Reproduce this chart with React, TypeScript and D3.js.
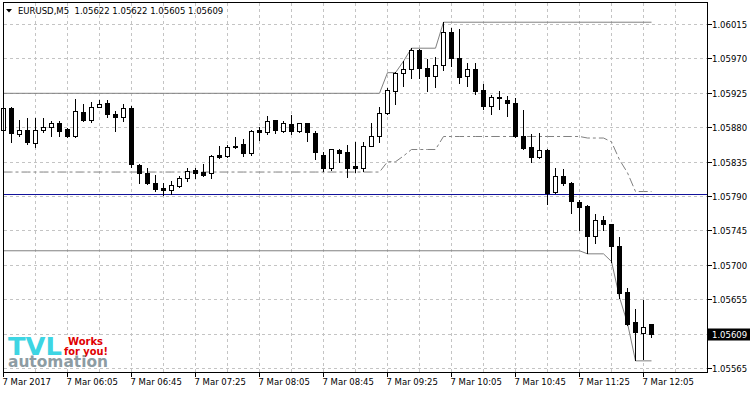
import React from 'react';
import * as d3 from 'd3';

// ---- data (EURUSD M5, 7 Mar 2017, 05:25 .. 12:10) ----
const opens = [
  1.05876, 1.05905, 1.05871, 1.05876, 1.05859, 1.05876, 1.05880, 1.05885, 1.05878, 1.05869,
  1.05900, 1.05890, 1.05907, 1.05912, 1.05897, 1.05893, 1.05905, 1.05831, 1.05820, 1.05807,
  1.05800, 1.05798, 1.05803, 1.05813, 1.05824, 1.05821, 1.05820, 1.05844, 1.05842, 1.05856,
  1.05858, 1.05846, 1.05876, 1.05874, 1.05889, 1.05875, 1.05884, 1.05875, 1.05885, 1.05873,
  1.05844, 1.05826, 1.05850, 1.05847, 1.05829, 1.05827, 1.05856, 1.05868, 1.05899, 1.05928,
  1.05951, 1.05956, 1.05981, 1.05957, 1.05947, 1.05961, 1.06004, 1.05971, 1.05947, 1.05956,
  1.05929, 1.05908, 1.05920, 1.05916, 1.05912, 1.05868, 1.05854, 1.05841, 1.05850, 1.05795,
  1.05816, 1.05807, 1.05782, 1.05777, 1.05738, 1.05758, 1.05753, 1.05725, 1.05664, 1.05625,
  1.05611, 1.05622,
];
const highs = [
  1.05925, 1.05907, 1.05889, 1.05892, 1.05892, 1.05892, 1.05888, 1.05888, 1.05879, 1.05917,
  1.05911, 1.05913, 1.05916, 1.05916, 1.05901, 1.05911, 1.05908, 1.05832, 1.05826, 1.05818,
  1.05807, 1.05809, 1.05816, 1.05826, 1.05826, 1.05832, 1.05843, 1.05855, 1.05857, 1.05867,
  1.05865, 1.05876, 1.05880, 1.05895, 1.05890, 1.05888, 1.05896, 1.05886, 1.05886, 1.05875,
  1.05847, 1.05852, 1.05851, 1.05857, 1.05860, 1.05861, 1.05885, 1.05906, 1.05931, 1.05952,
  1.05967, 1.05984, 1.05982, 1.05969, 1.05972, 1.06017, 1.06010, 1.06009, 1.05964, 1.05964,
  1.05936, 1.05922, 1.05927, 1.05921, 1.05918, 1.05903, 1.05871, 1.05872, 1.05851, 1.05826,
  1.05825, 1.05808, 1.05785, 1.05778, 1.05766, 1.05764, 1.05754, 1.05737, 1.05669, 1.05642,
  1.05654, 1.05622,
];
const lows = [
  1.05872, 1.05861, 1.05868, 1.05858, 1.05854, 1.05874, 1.05868, 1.05868, 1.05867, 1.05867,
  1.05888, 1.05887, 1.05906, 1.05893, 1.05875, 1.05888, 1.05828, 1.05807, 1.05806, 1.05796,
  1.05791, 1.05793, 1.05802, 1.05810, 1.05814, 1.05816, 1.05813, 1.05840, 1.05841, 1.05853,
  1.05842, 1.05844, 1.05863, 1.05871, 1.05872, 1.05874, 1.05871, 1.05874, 1.05862, 1.05839,
  1.05823, 1.05824, 1.05834, 1.05815, 1.05822, 1.05823, 1.05855, 1.05861, 1.05897, 1.05911,
  1.05934, 1.05945, 1.05944, 1.05928, 1.05933, 1.05955, 1.05960, 1.05938, 1.05934, 1.05924,
  1.05904, 1.05897, 1.05904, 1.05894, 1.05867, 1.05852, 1.05834, 1.05840, 1.05780, 1.05794,
  1.05804, 1.05768, 1.05746, 1.05715, 1.05729, 1.05746, 1.05704, 1.05656, 1.05621, 1.05575,
  1.05577, 1.05605,
];
const closes = [
  1.05905, 1.05872, 1.05876, 1.05860, 1.05876, 1.05880, 1.05885, 1.05875, 1.05869, 1.05901,
  1.05889, 1.05906, 1.05911, 1.05897, 1.05893, 1.05905, 1.05832, 1.05820, 1.05807, 1.05799,
  1.05798, 1.05804, 1.05813, 1.05823, 1.05820, 1.05818, 1.05842, 1.05841, 1.05854, 1.05854,
  1.05846, 1.05875, 1.05874, 1.05888, 1.05876, 1.05885, 1.05875, 1.05885, 1.05874, 1.05847,
  1.05827, 1.05851, 1.05846, 1.05826, 1.05827, 1.05855, 1.05868, 1.05898, 1.05929, 1.05951,
  1.05956, 1.05981, 1.05957, 1.05947, 1.05961, 1.06004, 1.05971, 1.05946, 1.05956, 1.05928,
  1.05908, 1.05919, 1.05918, 1.05912, 1.05868, 1.05853, 1.05841, 1.05850, 1.05794, 1.05816,
  1.05807, 1.05783, 1.05776, 1.05738, 1.05759, 1.05753, 1.05724, 1.05663, 1.05623, 1.05612,
  1.05619, 1.05609,
];

// channel indicator breakpoints: [bar index, price]
const upperChannel: [number, number][] = [
  [0, 1.05925], [47, 1.05925], [48, 1.05952], [49, 1.05952], [50, 1.05967],
  [51, 1.05984], [54, 1.05984], [55, 1.06018], [81, 1.06018],
];
const lowerChannel: [number, number][] = [
  [0, 1.05719], [72, 1.05719], [73, 1.05715], [75, 1.05715], [76, 1.05705],
  [77, 1.05658], [78, 1.05624], [79, 1.05575], [81, 1.05575],
];
const blueLevel = 1.05792;
const currentPrice = 1.05609;

const priceTicks = [
  1.06015, 1.0597, 1.05925, 1.0588, 1.05835, 1.0579, 1.05745, 1.057, 1.05655, 1.0561, 1.05565,
];
const timeLabels = [
  '7 Mar 2017', '7 Mar 06:05', '7 Mar 06:45', '7 Mar 07:25', '7 Mar 08:05', '7 Mar 08:45',
  '7 Mar 09:25', '7 Mar 10:05', '7 Mar 10:45', '7 Mar 11:25', '7 Mar 12:05',
];
const titleText = 'EURUSD,M5  1.05622 1.05622 1.05605 1.05609';

const FONT = "'DejaVu Sans', Tahoma, sans-serif";

export default function App() {
  const W = 750, H = 394;
  const left = 3.5, right = 707.5, top = 2.5, bottom = 372.5;
  const x = d3.scaleLinear().domain([0, 88]).range([3.5, 707.5]);
  const y = d3.scaleLinear().domain([1.05565, 1.06015]).range([368, 24]);
  const ry = (v: number) => Math.round(y(v));

  const upperS = d3.scaleLinear().domain(upperChannel.map(d => d[0])).range(upperChannel.map(d => d[1]));
  const lowerS = d3.scaleLinear().domain(lowerChannel.map(d => d[0])).range(lowerChannel.map(d => d[1]));
  const line = d3.line<[number, number]>().x(d => x(d[0])).y(d => y(d[1]) + 0.5);
  const midPts: [number, number][] = d3.range(0, opens.length).map(i => [i, (upperS(i) + lowerS(i)) / 2]);

  const gridV = d3.range(4, 88, 4);
  const labelBars = timeLabels.map((_, k) => k * 8);

  return (
    <svg width={W} height={H} viewBox={`0 0 ${W} ${H}`}
      style={{ position: 'absolute', left: 0, top: 0, background: '#fff' }}>
      <rect x={0} y={0} width={W} height={H} fill="#fff" />
      {/* grid */}
      <g stroke="#c4c4c4" strokeWidth={1} strokeDasharray="3,3" shapeRendering="crispEdges">
        {gridV.map(i => (
          <line key={'v' + i} x1={x(i)} x2={x(i)} y1={top} y2={bottom} />
        ))}
        {priceTicks.map(t => (
          <line key={'h' + t} x1={left} x2={right} y1={ry(t) + 0.5} y2={ry(t) + 0.5} />
        ))}
      </g>
      {/* channel */}
      <path d={line(upperChannel) || ''} fill="none" stroke="#808080" strokeWidth={1} />
      <path d={line(lowerChannel) || ''} fill="none" stroke="#808080" strokeWidth={1} />
      <path d={line(midPts) || ''} fill="none" stroke="#808080" strokeWidth={1} strokeDasharray="9,3,3,3" />
      {/* blue horizontal level */}
      <line x1={left} x2={right} y1={ry(blueLevel) + 0.5} y2={ry(blueLevel) + 0.5}
        stroke="#12129a" strokeWidth={1} shapeRendering="crispEdges" />
      {/* candles */}
      <g shapeRendering="crispEdges">
        {opens.map((o, i) => {
          const c = closes[i];
          const cx = x(i);
          const yo = ry(o), yc = ry(c), yh = ry(highs[i]), yl = ry(lows[i]);
          const bull = c > o;
          return (
            <g key={i}>
              <rect x={cx - 0.5} y={yh} width={1} height={Math.max(1, yl - yh + 1)} fill="#000" />
              {bull ? (
                yo - yc >= 2 ? (
                  <rect x={cx - 2} y={yc + 0.5} width={4} height={yo - yc} fill="#fff" stroke="#000" strokeWidth={1} />
                ) : (
                  <rect x={cx - 2.5} y={yc} width={5} height={Math.max(1, yo - yc + 1)} fill="#000" />
                )
              ) : (
                <rect x={cx - 2.5} y={yo} width={5} height={Math.max(1, yc - yo + 1)} fill="#000" />
              )}
            </g>
          );
        })}
      </g>
      {/* logo */}
      <g>
        <rect x={5} y={335} width={105} height={32} fill="#fff" />
        <text x={8} y={354.5} fontFamily={FONT} fontWeight="bold" fontSize={24} fill="#3dd5e3"
          textLength={54} lengthAdjust="spacingAndGlyphs">TVL</text>
        <text x={68} y={344.5} fontFamily={FONT} fontWeight="bold" fontSize={10} fill="#e00000"
          textLength={35} lengthAdjust="spacingAndGlyphs">Works</text>
        <text x={64} y={354.5} fontFamily={FONT} fontWeight="bold" fontSize={10} fill="#e00000"
          textLength={44} lengthAdjust="spacingAndGlyphs">for you!</text>
        <text x={8} y={366.5} fontFamily={FONT} fontWeight="bold" fontSize={15} fill="#8d9ca3"
          textLength={100} lengthAdjust="spacingAndGlyphs">automation</text>
      </g>
      {/* frame */}
      <rect x={left} y={top} width={right - left} height={bottom - top} fill="none" stroke="#000"
        strokeWidth={1} shapeRendering="crispEdges" />
      {/* right axis */}
      <g fontFamily={FONT} fontSize={8.5} fill="#000">
        {priceTicks.map(t => (
          <g key={'yt' + t}>
            <line x1={right} x2={right + 4} y1={ry(t) + 0.5} y2={ry(t) + 0.5} stroke="#000" shapeRendering="crispEdges" />
            <text x={712} y={ry(t) + 3.5}>{t.toFixed(5)}</text>
          </g>
        ))}
        <rect x={708} y={ry(currentPrice) - 5.5} width={42} height={12} fill="#000" />
        <text x={712} y={ry(currentPrice) + 3.5} fill="#fff">{currentPrice.toFixed(5)}</text>
      </g>
      {/* bottom axis */}
      <g fontFamily={FONT} fontSize={8.5} fill="#000">
        {labelBars.map((b, k) => (
          <g key={'xt' + k}>
            <line x1={x(b)} x2={x(b)} y1={bottom} y2={bottom + 4} stroke="#000" shapeRendering="crispEdges" />
            <text x={x(b) - 1} y={385}>{timeLabels[k]}</text>
          </g>
        ))}
      </g>
      {/* title */}
      <path d="M6,9 L12,9 L9,12.5 Z" fill="#000" />
      <text x={18} y={13.5} fontFamily={FONT} fontSize={8.5} fill="#000" style={{ whiteSpace: 'pre' }}>{titleText}</text>
    </svg>
  );
}
